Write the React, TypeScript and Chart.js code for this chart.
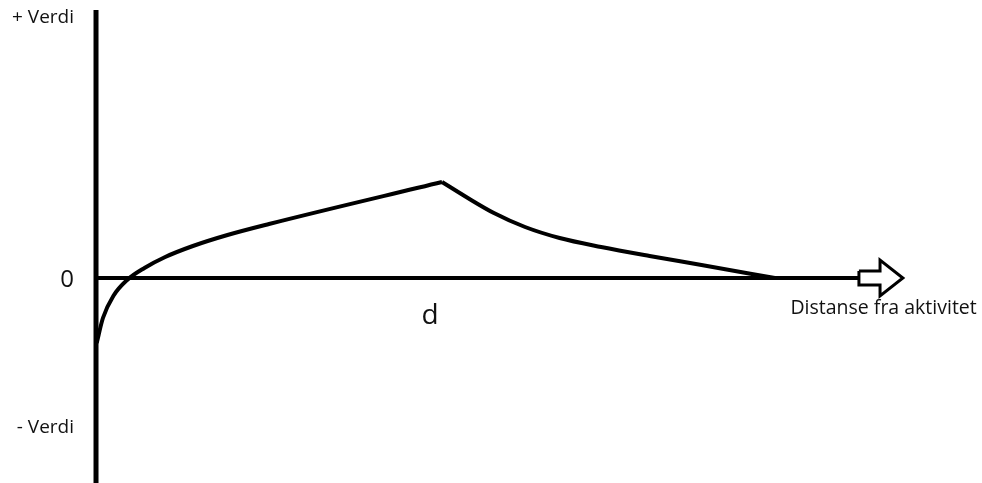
import React, { useEffect, useRef } from "react";
import { Chart, registerables } from "chart.js";

Chart.register(...registerables);

// Horizontal unit: the distance "d" from the activity is 1.
// Vertical unit: value (arbitrary scale, 0 = neutral).
const xRange = [-0.2775, 2.5607];
const yRange = [-2.05, 2.78];

// Value curve rising from negative up to the peak at d
const risingX = [0.002, 0.02, 0.05, 0.09, 0.14, 0.2, 0.28, 0.38, 0.5, 1.0];
const risingY = [-0.65, -0.4, -0.18, -0.02, 0.1, 0.21, 0.32, 0.43, 0.54, 0.96];

// Value curve falling back to zero beyond d
const fallingX = [1.0, 1.07, 1.15, 1.24, 1.34, 1.46, 1.6, 1.75, 1.962];
const fallingY = [0.96, 0.81, 0.65, 0.51, 0.4, 0.31, 0.22, 0.13, 0.0];

// Axes
const yAxisX = [0, 0];
const yAxisY = [2.68, -2.1];
const xAxisX = [0, 2.205];
const xAxisY = [0, 0];

// Outlined block arrow at the end of the distance axis
const arrowX = [2.205, 2.266, 2.266, 2.332, 2.266, 2.266, 2.205, 2.205];
const arrowY = [0.07, 0.07, 0.18, 0.0, -0.18, -0.07, -0.07, 0.07];

// Labels
const yTickLabels = ["+ Verdi", "0", "- Verdi"];
const yTickValues = [2.6, -0.02, -1.5];
const xTickLabels = ["d"];
const xTickValues = [1];
const xAxisTitle = "Distanse fra aktivitet";

const pts = (xs: number[], ys: number[]) => xs.map((x, i) => ({ x, y: ys[i] }));

const labelPlugin = {
  id: "axisLabels",
  afterDraw(chart: any) {
    const { ctx, scales } = chart;
    const xs = scales.x;
    const ys = scales.y;
    const axisPx = xs.getPixelForValue(0);
    ctx.save();
    ctx.fillStyle = "#111";
    ctx.textBaseline = "middle";
    ctx.textAlign = "right";
    yTickLabels.forEach((t, i) => {
      ctx.font = t === "0" ? "24px 'Open Sans'" : "19px 'Open Sans'";
      ctx.fillText(t, axisPx - 22, ys.getPixelForValue(yTickValues[i]));
    });
    ctx.textAlign = "center";
    ctx.textBaseline = "alphabetic";
    ctx.font = "28px 'Open Sans'";
    xTickLabels.forEach((t, i) => {
      ctx.fillText(t, xs.getPixelForValue(xTickValues[i]) - 12, ys.getPixelForValue(0) + 46);
    });
    ctx.textAlign = "left";
    ctx.textBaseline = "middle";
    ctx.font = "19.5px 'Open Sans'";
    ctx.fillText(xAxisTitle, xs.getPixelForValue(2.007), ys.getPixelForValue(0) + 30);
    ctx.restore();
  },
};

export default function App() {
  const ref = useRef<HTMLCanvasElement>(null);

  useEffect(() => {
    document.body.style.margin = "0";
    const canvas = ref.current;
    if (!canvas) return;
    const line = { showLine: true, pointRadius: 0, borderColor: "#000", fill: false };
    const chart = new Chart(canvas, {
      type: "scatter",
      data: {
        datasets: [
          { ...line, data: pts(yAxisX, yAxisY), borderWidth: 5 },
          { ...line, data: pts(xAxisX, xAxisY), borderWidth: 4 },
          { ...line, data: pts(arrowX, arrowY), borderWidth: 3, borderJoinStyle: "miter" },
          { ...line, data: pts(risingX, risingY), borderWidth: 4, cubicInterpolationMode: "monotone" },
          { ...line, data: pts(fallingX, fallingY), borderWidth: 4, cubicInterpolationMode: "monotone" },
        ] as any,
      },
      options: {
        responsive: false,
        animation: false,
        layout: { padding: 0 },
        plugins: { legend: { display: false }, tooltip: { enabled: false } },
        scales: {
          x: { type: "linear", min: xRange[0], max: xRange[1], display: false },
          y: { type: "linear", min: yRange[0], max: yRange[1], display: false },
        },
      },
      plugins: [labelPlugin],
    });
    return () => chart.destroy();
  }, []);

  return (
    <div style={{ width: 982, height: 483, background: "#fff" }}>
      <canvas ref={ref} width={982} height={483} style={{ display: "block" }} />
    </div>
  );
}
